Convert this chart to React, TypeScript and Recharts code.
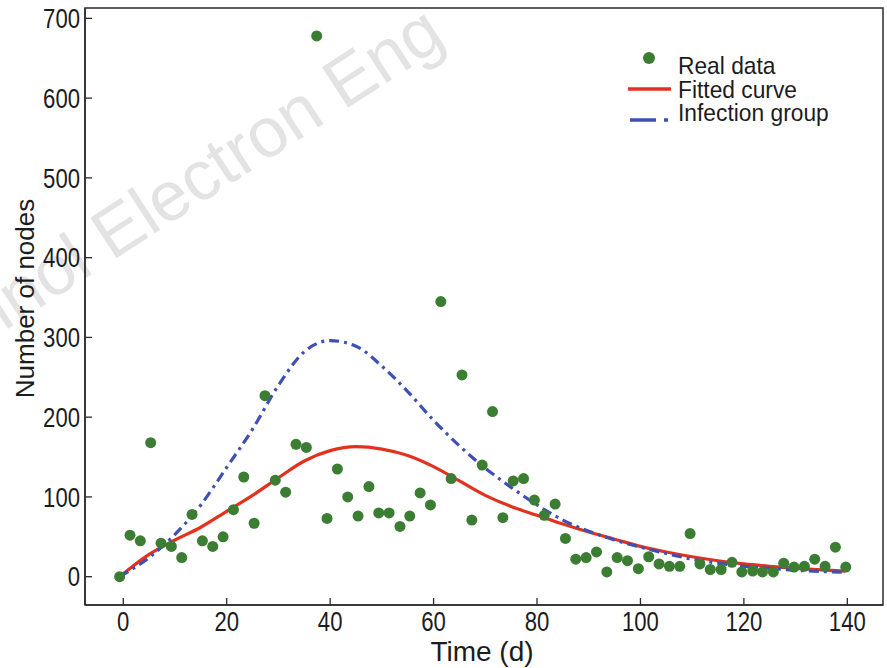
import React from "react";
import {
  ComposedChart,
  Scatter,
  Line,
  XAxis,
  YAxis,
  ReferenceArea,
} from "recharts";

// ---- Data ----
const days = [
  -0.7, 1.3, 3.3, 5.3, 7.3, 9.3, 11.3, 13.3, 15.3, 17.3, 19.3, 21.3, 23.3, 25.3,
  27.4, 29.4, 31.4, 33.4, 35.4, 37.4, 39.4, 41.4, 43.4, 45.4, 47.5, 49.4, 51.4,
  53.5, 55.4, 57.4, 59.4, 61.4, 63.4, 65.5, 67.4, 69.4, 71.4, 73.4, 75.4, 77.4,
  79.5, 81.4, 83.5, 85.5, 87.5, 89.5, 91.5, 93.5, 95.5, 97.5, 99.6, 101.6,
  103.6, 105.6, 107.6, 109.6, 111.5, 113.5, 115.6, 117.7, 119.6, 121.7, 123.6,
  125.7, 127.7, 129.7, 131.7, 133.7, 135.7, 137.7, 139.7,
];
const realData = [
  0, 52, 45, 168, 42, 38, 24, 78, 45, 38, 50, 84, 125, 67, 227, 121, 106, 166,
  162, 678, 73, 135, 100, 76, 113, 80, 80, 63, 76, 105, 90, 345, 123, 253, 71,
  140, 207, 74, 120, 123, 96, 77, 91, 48, 22, 24, 31, 6, 24, 20, 10, 25, 16, 13,
  13, 54, 16, 9, 9, 18, 6, 7, 6, 6, 17, 12, 13, 22, 13, 37, 12,
];
const curveDays = [
  -0.7, 5, 10, 15, 20, 25, 30, 35, 40, 45, 50, 55, 60, 65, 70, 75, 80, 85, 90,
  95, 100, 105, 110, 115, 120, 125, 130, 135, 139.6,
];
const fittedCurve = [
  0, 28, 46, 62, 82, 102, 124, 145, 158, 163, 160, 152, 138, 120, 102, 88, 77,
  66, 56, 47, 38, 31, 25, 20, 16, 13, 10.5, 8.5, 7,
];
const infectionGroup = [
  0, 24, 53, 90, 137, 185, 240, 282, 296, 289, 264, 232, 196, 164, 136, 112, 90,
  71, 57, 46, 37, 29, 22, 17, 13, 10.5, 8, 6.5, 5.5,
];
const xTicks = [0, 20, 40, 60, 80, 100, 120, 140];
const yTicks = [0, 100, 200, 300, 400, 500, 600, 700];

const scatterData = days.map((d, i) => ({ x: d, y: realData[i] }));
const fittedData = curveDays.map((d, i) => ({ x: d, y: fittedCurve[i] }));
const infectionData = curveDays.map((d, i) => ({ x: d, y: infectionGroup[i] }));

const GREEN = "#3b7d33";
const RED = "#e2321f";
const BLUE = "#3e51b3";
const AXIS = "#2b2b2b";
const TEXT = "#1c1c1c";
const FONT = "'Liberation Sans', Arial, Helvetica, sans-serif";

const XTick = (props: any) => {
  const { x, y, payload } = props;
  return (
    <text
      transform={`translate(${x},${y + 19.5}) scale(0.82,1)`}
      textAnchor="middle"
      fontSize={27}
      fontFamily={FONT}
      fill={TEXT}
    >
      {payload.value}
    </text>
  );
};

const YTick = (props: any) => {
  const { x, y, payload } = props;
  return (
    <text
      transform={`translate(${x + 2},${y + 9.7}) scale(0.82,1)`}
      textAnchor="end"
      fontSize={27}
      fontFamily={FONT}
      fill={TEXT}
    >
      {payload.value}
    </text>
  );
};

const Dot = (props: any) => {
  const { cx, cy } = props;
  if (cx == null || cy == null) return null;
  return <circle cx={cx} cy={cy} r={5.5} fill={GREEN} />;
};

export default function App() {
  return (
    <div
      style={{
        position: "absolute",
        left: 0,
        top: 0,
        width: 887,
        height: 668,
        background: "#fff",
        overflow: "hidden",
      }}
    >
      <svg
        width={887}
        height={668}
        style={{ position: "absolute", left: 0, top: 0, zIndex: 0 }}
      >
        <text
          transform="translate(448,43) rotate(-33)"
          textAnchor="end"
          fontSize={70}
          fontFamily={FONT}
          fill="#e3e3e3"
        >
          Front Inform Technol Electron Eng
        </text>
        <text
          transform="translate(33.5,298.5) rotate(-90)"
          textAnchor="middle"
          fontSize={26}
          fontFamily={FONT}
          fill={TEXT}
        >
          Number of nodes
        </text>
        <text
          x={482}
          y={661}
          textAnchor="middle"
          fontSize={28}
          fontFamily={FONT}
          fill={TEXT}
        >
          Time (d)
        </text>
      </svg>
      <div style={{ position: "relative", zIndex: 1 }}>
        <ComposedChart
          width={887}
          height={668}
          margin={{ top: 8, right: 4, bottom: 0, left: 0 }}
        >
          <XAxis
            type="number"
            dataKey="x"
            domain={[-7.4, 146.9]}
            ticks={xTicks}
            allowDataOverflow
            height={63}
            tickSize={-7}
            tickMargin={13}
            tick={<XTick />}
            axisLine={{ stroke: AXIS, strokeWidth: 1.5 }}
            tickLine={{ stroke: AXIS, strokeWidth: 1.3 }}
          />
          <YAxis
            type="number"
            dataKey="y"
            domain={[-35.5, 713]}
            ticks={yTicks}
            allowDataOverflow
            width={85}
            tickSize={-7}
            tickMargin={14}
            tick={<YTick />}
            axisLine={{ stroke: AXIS, strokeWidth: 1.5 }}
            tickLine={{ stroke: AXIS, strokeWidth: 1.3 }}
          />
          <ReferenceArea
            x1={-7.4}
            x2={146.9}
            y1={-35.5}
            y2={713}
            fill="none"
            fillOpacity={0}
            stroke={AXIS}
            strokeWidth={1.5}
          />
          <Scatter
            data={scatterData}
            dataKey="y"
            shape={<Dot />}
            isAnimationActive={false}
          />
          <Line
            data={fittedData}
            dataKey="y"
            type="monotone"
            stroke={RED}
            strokeWidth={3.2}
            dot={false}
            activeDot={false}
            isAnimationActive={false}
          />
          <Line
            data={infectionData}
            dataKey="y"
            type="monotone"
            stroke={BLUE}
            strokeWidth={3.2}
            strokeDasharray="10 5 3 5"
            dot={false}
            activeDot={false}
            isAnimationActive={false}
          />
        </ComposedChart>
      </div>
      <svg
        width={887}
        height={668}
        style={{
          position: "absolute",
          left: 0,
          top: 0,
          zIndex: 2,
          pointerEvents: "none",
        }}
      >
        <circle cx={649} cy={58} r={6} fill={GREEN} />
        <line x1={628} x2={671} y1={89} y2={89} stroke={RED} strokeWidth={3.5} />
        <line
          x1={630}
          x2={668}
          y1={120}
          y2={120}
          stroke={BLUE}
          strokeWidth={3.5}
          strokeDasharray="26 8 4 100"
        />
        <g fontSize={24} fontFamily={FONT} fill={TEXT}>
          <text transform="translate(678,74) scale(0.95,1)">Real data</text>
          <text transform="translate(678,97.5) scale(0.95,1)">Fitted curve</text>
          <text transform="translate(678,120.5) scale(0.95,1)">Infection group</text>
        </g>
      </svg>
    </div>
  );
}
